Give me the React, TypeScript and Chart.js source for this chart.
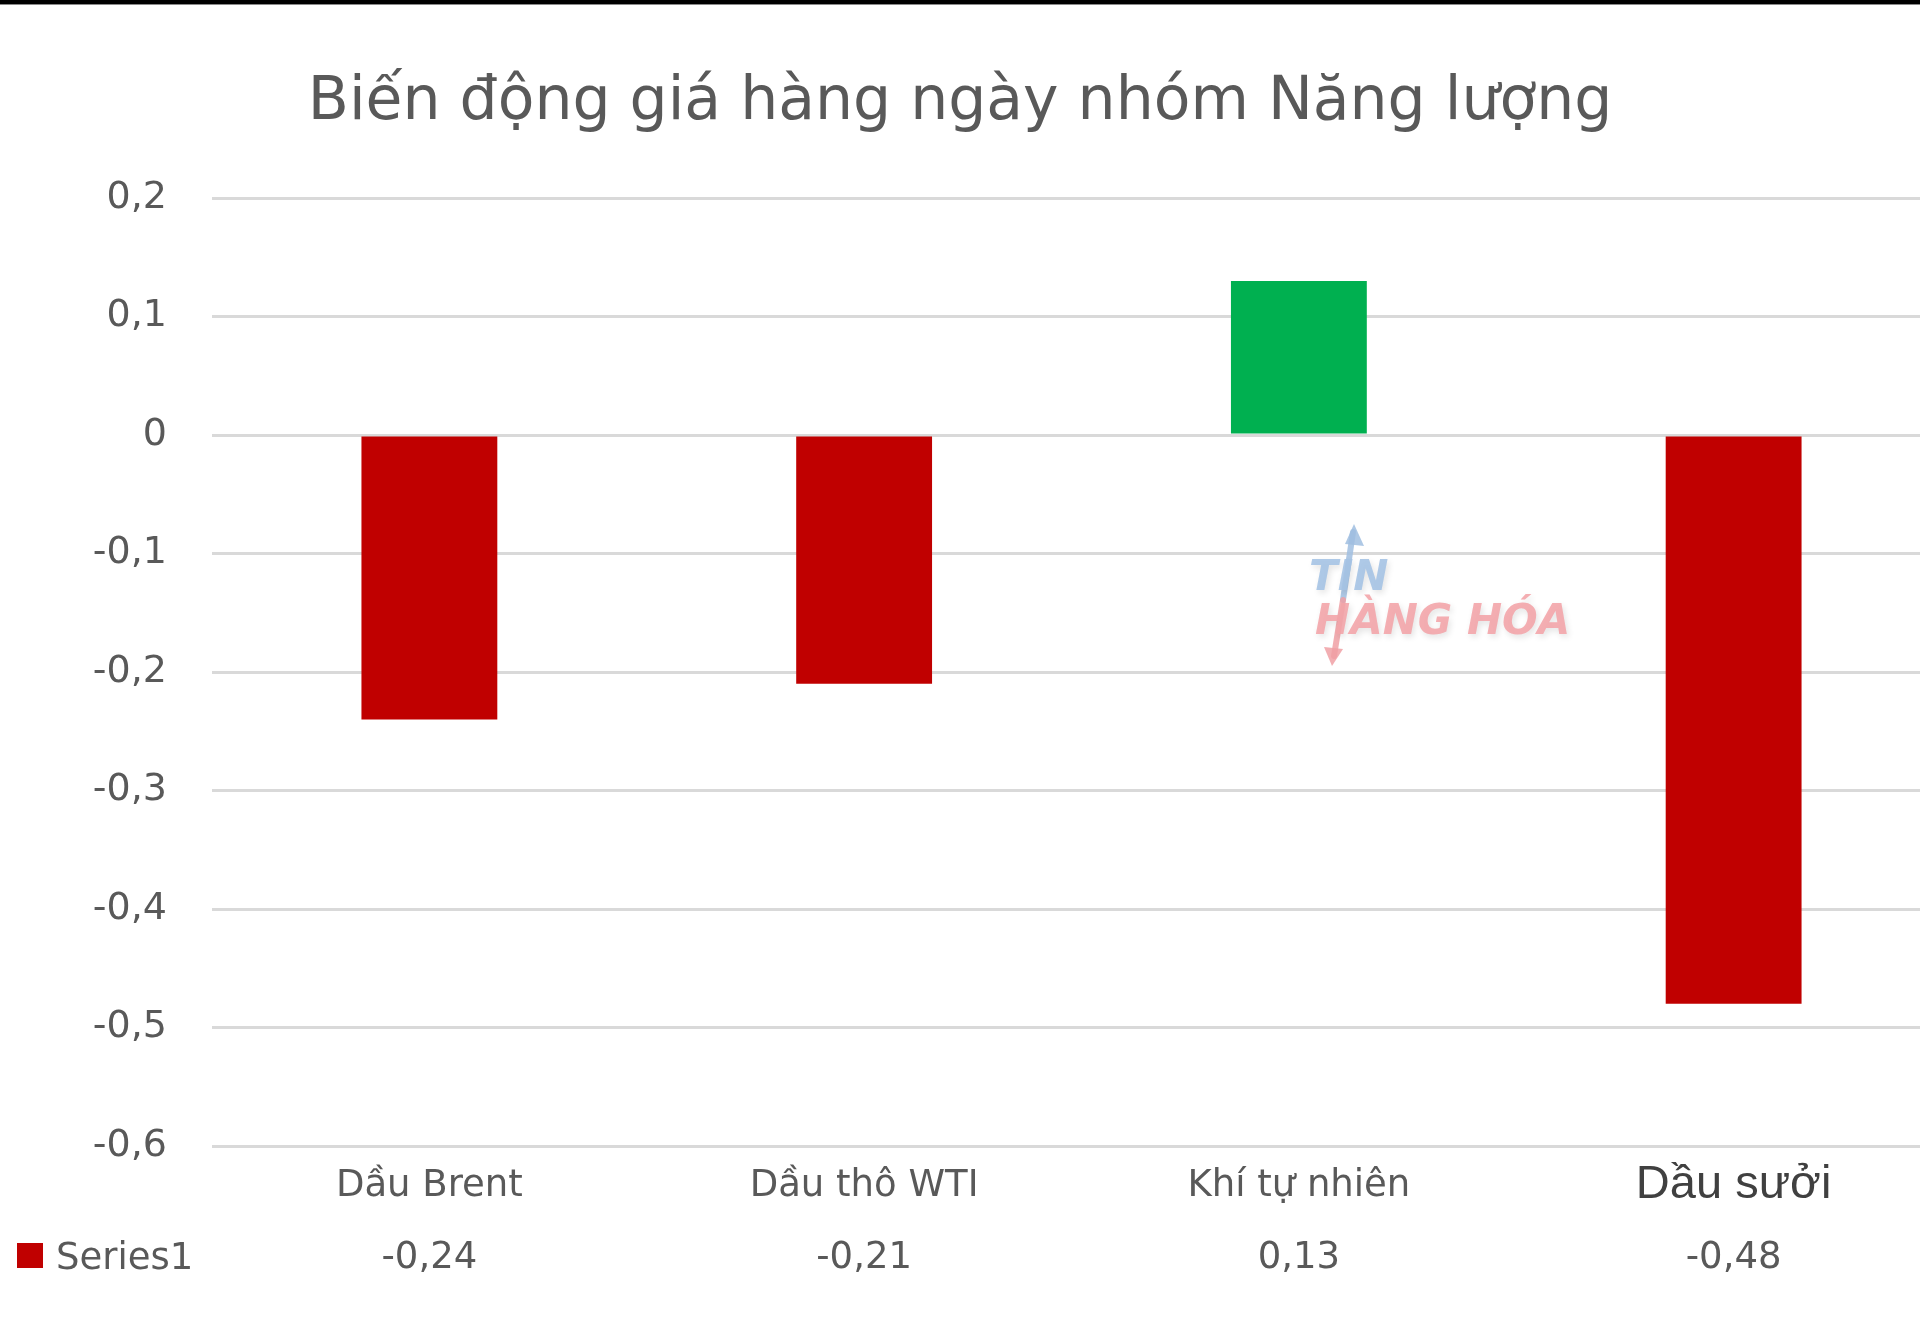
import React, { useEffect, useRef } from "react";
import { Chart, registerables } from "chart.js";

Chart.register(...registerables);

// ---- Data ----
const categories = ["Dầu Brent", "Dầu thô WTI", "Khí tự nhiên", "Dầu sưởi"];
const seriesName = "Series1";
const values = [-0.24, -0.21, 0.13, -0.48];
const barColors = ["#C00000", "#C00000", "#00B050", "#C00000"];
const seriesColor = "#C00000";
const yMin = -0.6;
const yMax = 0.2;
const yStep = 0.1;
const titleText = "Biến động giá hàng ngày nhóm Năng lượng";
const watermarkTop = "TIN";
const watermarkBottom = "HÀNG HÓA";

const CANVAS_W = 1951;
const CANVAS_H = 1317;
const TEXT = "#595959";
const FONT = '"DejaVu Sans", sans-serif';

const fmt = (v: number) =>
  Math.abs(v) < 1e-9 ? "0" : (Math.round(v * 100) / 100).toString().replace(".", ",");

const titlePlugin = {
  id: "titleDraw",
  afterDraw(chart: any) {
    const ctx = chart.ctx;
    ctx.save();
    ctx.font = `60px ${FONT}`;
    ctx.fillStyle = TEXT;
    ctx.textAlign = "center";
    ctx.textBaseline = "alphabetic";
    ctx.fillText(titleText, 960, 119);
    ctx.restore();
  },
};

const dataTablePlugin = {
  id: "dataTable",
  afterDraw(chart: any) {
    const ctx = chart.ctx;
    const xs = chart.scales.x;
    ctx.save();
    ctx.font = `37px ${FONT}`;
    ctx.fillStyle = TEXT;
    ctx.textAlign = "center";
    ctx.textBaseline = "alphabetic";
    values.forEach((v, i) => {
      ctx.fillText(fmt(v), xs.getPixelForValue(i), 1268);
    });
    // legend key
    ctx.fillStyle = seriesColor;
    ctx.fillRect(17, 1243, 26, 25);
    ctx.fillStyle = TEXT;
    ctx.textAlign = "left";
    ctx.fillText(seriesName, 56, 1269);
    ctx.restore();
  },
};

const watermarkPlugin = {
  id: "watermark",
  afterDatasetsDraw(chart: any) {
    const ctx = chart.ctx;
    ctx.save();
    // arrow
    ctx.lineWidth = 6;
    ctx.lineCap = "round";
    ctx.strokeStyle = "rgba(160,190,225,0.85)";
    ctx.beginPath();
    ctx.moveTo(1353, 532);
    ctx.lineTo(1343, 600);
    ctx.stroke();
    ctx.fillStyle = "rgba(160,190,225,0.85)";
    ctx.beginPath();
    ctx.moveTo(1354, 524);
    ctx.lineTo(1364, 546);
    ctx.lineTo(1345, 544);
    ctx.closePath();
    ctx.fill();
    ctx.strokeStyle = "rgba(240,160,165,0.85)";
    ctx.beginPath();
    ctx.moveTo(1343, 600);
    ctx.lineTo(1334, 656);
    ctx.stroke();
    ctx.fillStyle = "rgba(240,160,165,0.85)";
    ctx.beginPath();
    ctx.moveTo(1332, 666);
    ctx.lineTo(1324, 647);
    ctx.lineTo(1343, 649);
    ctx.closePath();
    ctx.fill();

    ctx.textAlign = "left";
    ctx.textBaseline = "alphabetic";
    ctx.shadowColor = "rgba(0,0,0,0.12)";
    ctx.shadowBlur = 6;
    ctx.shadowOffsetX = 2;
    ctx.shadowOffsetY = 3;
    ctx.font = `italic bold 42px ${FONT}`;
    ctx.fillStyle = "rgba(165,195,228,0.9)";
    ctx.fillText(watermarkTop, 1309, 590);
    ctx.fillStyle = "rgba(243,165,170,0.9)";
    ctx.fillText(watermarkBottom, 1315, 634);
    ctx.restore();
  },
};

function BarChart() {
  const ref = useRef<HTMLCanvasElement>(null);
  useEffect(() => {
    if (!ref.current) return;
    const chart = new Chart(ref.current, {
      type: "bar",
      data: {
        labels: categories,
        datasets: [
          {
            label: seriesName,
            data: values,
            backgroundColor: barColors,
            borderWidth: 0,
            barPercentage: 0.3125,
            categoryPercentage: 1,
          },
        ],
      },
      options: {
        responsive: false,
        animation: false,
        devicePixelRatio: 1,
        layout: { padding: { top: 198, left: 0, right: 0, bottom: 0 } },
        plugins: {
          legend: { display: false },
          title: { display: false },
          tooltip: { enabled: false },
        },
        scales: {
          x: {
            type: "category",
            offset: true,
            grid: { display: false, drawTicks: false },
            border: { display: false },
            ticks: {
              padding: 18,
              maxRotation: 0,
              autoSkip: false,
              color: (c: any) => (c.index === 3 ? "#404040" : TEXT),
              font: (c: any) =>
                c.index === 3
                  ? { family: '"Liberation Sans", Arial, sans-serif', size: 47, lineHeight: 0.9 }
                  : { family: FONT, size: 37 },
            },
            afterFit: (s: any) => {
              s.height = 171;
            },
          },
          y: {
            min: yMin,
            max: yMax,
            grid: { color: "#D9D9D9", lineWidth: 3, drawTicks: false },
            border: { display: false },
            ticks: {
              stepSize: yStep,
              padding: 45,
              color: TEXT,
              font: { family: FONT, size: 38 },
              callback: (v: any) => fmt(Number(v)),
            },
            afterFit: (s: any) => {
              s.width = 212;
            },
          },
        },
      } as any,
      plugins: [titlePlugin, dataTablePlugin, watermarkPlugin],
    });
    return () => chart.destroy();
  }, []);

  return (
    <canvas
      ref={ref}
      width={CANVAS_W}
      height={CANVAS_H}
      style={{ position: "absolute", left: 0, top: 0, width: CANVAS_W, height: CANVAS_H }}
    />
  );
}

export default function App() {
  return (
    <div
      style={{
        position: "fixed",
        left: 0,
        top: 0,
        width: 1920,
        height: 1317,
        overflow: "hidden",
        background: "#ffffff",
      }}
    >
      <BarChart />
      <div style={{ position: "absolute", left: 0, top: 0, width: 1920, height: 4, background: "#000" }} />
      <div style={{ position: "absolute", left: 0, top: 4, width: 1920, height: 1, background: "#8a8a8a" }} />
    </div>
  );
}
